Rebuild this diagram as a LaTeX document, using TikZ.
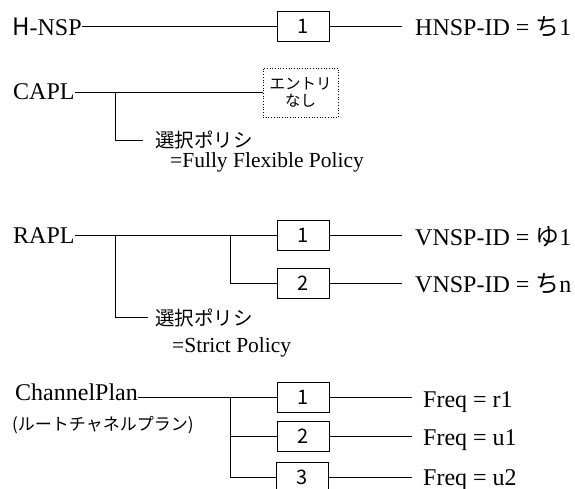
\documentclass[tikz,border=0pt]{standalone}
\usepackage{fontspec}
\usetikzlibrary{calc}
\setmainfont{Liberation Serif}
\newfontfamily\jp{Noto Sans CJK JP}
\begin{document}
\begin{tikzpicture}[x=1pt,y=-1pt,
  lbl/.style={anchor=base west, inner sep=0pt, font=\fontsize{24}{28}\selectfont},
  sublbl/.style={anchor=base west, inner sep=0pt, font=\fontsize{21.5}{24}\selectfont},
  jlbl/.style={anchor=base west, inner sep=0pt, font=\jp\fontsize{19.5}{22}\selectfont},
  numbox/.style={draw, line width=0.9pt, minimum width=52pt, minimum height=30pt,
                 inner sep=0pt, font=\jp\fontsize{20}{22}\selectfont},
  emptybox/.style={draw, dotted, line width=0.7pt, minimum width=75pt, minimum height=49pt,
                 inner sep=0pt, align=center, font=\jp\fontsize{15.5}{17.5}\selectfont},
  wire/.style={line width=0.9pt},
]
\useasboundingbox (0,0) rectangle (575,489);
\clip (0,0) rectangle (575,489);

% --- H-NSP ---
\node[lbl] (hnsp) at (12,36) {{\jp H}-NSP};
\node[numbox] (hb) at (303,26) {1};
\node[lbl] (hid) at (415,36) {HNSP-ID = {\jp ち}1};
\draw[wire] (hnsp.east |- hb.west) -- (hb.west);
\draw[wire] (hb.east) -- ($(hid.west |- hb.east)+(-13,0)$);

% --- CAPL ---
\node[lbl] (capl) at (13,100) {CAPL};
\node[emptybox] (centry) at (300.5,92.5) {エントリ\\なし};
\coordinate (cj) at (115,92.5);
\node[jlbl] (cpol) at (155,148) {選択ポリシ};
\node[sublbl] (cfx) at (170,167.5) {=Fully Flexible Policy};
\draw[wire] (capl.east |- centry.west) -- (centry.west);
\draw[wire] (cj) |- ($(cpol.west)+(-12,0)$);

% --- RAPL ---
\node[lbl] (rapl) at (13,243) {RAPL};
\node[numbox] (rb1) at (303,235) {1};
\node[numbox] (rb2) at (303,283) {2};
\node[lbl] (rid1) at (415,245) {VNSP-ID = {\jp ゆ}1};
\node[lbl] (rid2) at (415,292) {VNSP-ID = {\jp ち}n};
\coordinate (rj1) at (115,235);
\coordinate (rj2) at (230,235);
\node[jlbl] (rpol) at (155,325) {選択ポリシ};
\node[sublbl] (rst) at (172,352) {=Strict Policy};
\draw[wire] (rapl.east |- rb1.west) -- (rb1.west);
\draw[wire] (rj2) |- (rb2.west);
\draw[wire] (rj1) |- ($(rpol.west)+(-7,0)$);
\draw[wire] (rb1.east) -- ($(rid1.west |- rb1.east)+(-13,0)$);
\draw[wire] (rb2.east) -- ($(rid2.west |- rb2.east)+(-13,0)$);

% --- ChannelPlan ---
\node[lbl] (cp) at (15,400) {ChannelPlan};
\node[anchor=base west, inner sep=0pt, font=\jp\fontsize{17}{19}\selectfont] (cpj) at (12,430) {(ルートチャネルプラン)};
\node[numbox] (pb1) at (303,397) {1};
\node[numbox] (pb2) at (303,436) {2};
\node[numbox] (pb3) at (302.5,477) {3};
\coordinate (pj) at (230,397);
\node[lbl] (f1) at (423,407) {Freq = r1};
\node[lbl] (f2) at (423,445) {Freq = u1};
\node[lbl] (f3) at (423,485) {Freq = u2};
\draw[wire] (cp.east |- pb1.west) -- (pb1.west);
\draw[wire] (pj) |- (pb2.west);
\draw[wire] (pj) |- (pb3.west);
\draw[wire] (pb1.east) -- ($(f1.west |- pb1.east)+(-11,0)$);
\draw[wire] (pb2.east) -- ($(f2.west |- pb2.east)+(-11,0)$);
\draw[wire] (pb3.east) -- ($(f3.west |- pb3.east)+(-11,0)$);
\end{tikzpicture}
\end{document}
